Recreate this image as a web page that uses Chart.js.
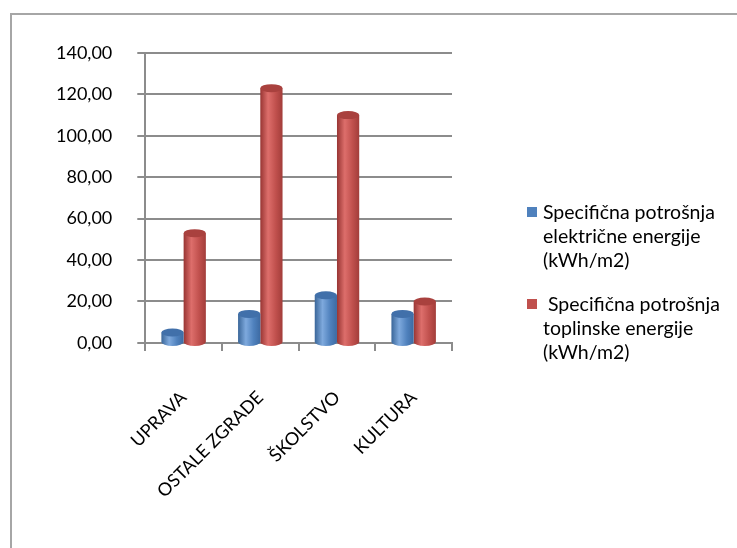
<!DOCTYPE html>
<html>
<head>
<meta charset="utf-8">
<script src="https://cdn.jsdelivr.net/npm/chart.js@4.4.0/dist/chart.umd.min.js"></script>
<style>
  html, body { margin: 0; padding: 0; background: #fff; overflow: hidden; }
  #wrap { position: relative; width: 737px; height: 548px; overflow: hidden; }
  #frame { position: absolute; left: 10px; top: 13px; width: 760px; height: 600px; border: 2px solid #a6a6a6; box-sizing: border-box; }
  canvas { position: absolute; left: 0; top: 0; }
</style>
</head>
<body>
<div id="wrap">
  <div id="frame"></div>
  <canvas id="chart" width="737" height="548"></canvas>
</div>
<script>
/* ===== Specifična potrošnja energije ===== */

const categories     = ['UPRAVA', 'OSTALE ZGRADE', 'ŠKOLSTVO', 'KULTURA'];
const electricValues = [5, 14, 23, 14];
const heatValues     = [53, 123, 110, 20];
const electricLabel  = ['Specifična potrošnja', 'električne energije', '(kWh/m2)'];
const heatLabel      = [' Specifična potrošnja', 'toplinske energije', '(kWh/m2)'];
const yMin  = 0;
const yMax  = 140;
const yStep = 20;

const FONT = 'Lato, "Open Sans", sans-serif';
const GRID = '#8c8c8c';

// colour sets: gradient stops left -> right, plus the darker top cap
const BLUE = { base: '#4f81bd', shade: ['#3a6699', '#7ea9dd', '#4f81bd', '#3d6aa2'], top: '#4170aa' };
const RED  = { base: '#c0504d', shade: ['#983533', '#dd6e6b', '#c0504d', '#a23d3a'], top: '#a9413e' };

function fmt(v) {
  return v.toFixed(2).replace('.', ',');
}

// cylinder look: gradient body, ellipse top and rounded base
const cylinderPlugin = {
  id: 'cylinders',
  beforeDatasetsDraw(chart) {
    const ctx = chart.ctx;
    chart.data.datasets.forEach((ds, i) => {
      chart.getDatasetMeta(i).data.forEach(bar => {
        const half = bar.width / 2;
        const g = ctx.createLinearGradient(bar.x - half, 0, bar.x + half, 0);
        g.addColorStop(0, ds.colors.shade[0]);
        g.addColorStop(0.35, ds.colors.shade[1]);
        g.addColorStop(0.7, ds.colors.shade[2]);
        g.addColorStop(1, ds.colors.shade[3]);
        bar.options.backgroundColor = g;
        bar._grad = g;
      });
    });
  },
  afterDatasetsDraw(chart) {
    const ctx = chart.ctx;
    chart.data.datasets.forEach((ds, i) => {
      chart.getDatasetMeta(i).data.forEach(bar => {
        const half = bar.width / 2;
        ctx.save();
        ctx.beginPath();
        ctx.ellipse(bar.x, bar.base, half, 4, 0, 0, Math.PI);
        ctx.fillStyle = bar._grad;
        ctx.fill();
        ctx.beginPath();
        ctx.ellipse(bar.x, bar.y, half, 4, 0, 0, Math.PI * 2);
        ctx.fillStyle = ds.colors.top;
        ctx.fill();
        ctx.restore();
      });
    });
  }
};

// multi-line legend on the right
const legendPlugin = {
  id: 'sideLegend',
  afterDraw(chart) {
    const ctx = chart.ctx;
    const x = 527, lineH = 24;
    const starts = [207, 299];
    ctx.save();
    ctx.font = '19.5px ' + FONT;
    ctx.textBaseline = 'middle';
    chart.data.datasets.forEach((ds, i) => {
      const y0 = starts[i];
      ctx.fillStyle = ds.colors.base;
      ctx.fillRect(x, y0, 10, 10);
      ctx.fillStyle = '#000';
      ds.label.forEach((line, j) => {
        ctx.fillText(line, x + 16, y0 + 6 + j * lineH);
      });
    });
    ctx.restore();
  }
};

const ctx = document.getElementById('chart').getContext('2d');

new Chart(ctx, {
  type: 'bar',
  data: {
    labels: categories,
    datasets: [
      {
        label: electricLabel,
        data: electricValues,
        colors: BLUE,
        backgroundColor: c => c.dataset.colors.base,
        borderWidth: 0,
        categoryPercentage: 0.58,
        barPercentage: 1
      },
      {
        label: heatLabel,
        data: heatValues,
        colors: RED,
        backgroundColor: c => c.dataset.colors.base,
        borderWidth: 0,
        categoryPercentage: 0.58,
        barPercentage: 1
      }
    ]
  },
  options: {
    responsive: false,
    animation: false,
    layout: { padding: { left: 31, top: 53, right: 285, bottom: 10 } },
    plugins: {
      legend: { display: false },
      tooltip: { enabled: false }
    },
    scales: {
      x: {
        grid: { drawOnChartArea: false, drawTicks: true, tickLength: 8, color: GRID, lineWidth: 2 },
        border: { display: true, color: GRID, width: 2 },
        ticks: {
          color: '#000',
          font: { family: FONT, size: 18 },
          minRotation: 45,
          maxRotation: 45,
          padding: 36
        }
      },
      y: {
        min: yMin,
        max: yMax,
        grid: { color: GRID, lineWidth: 2, tickLength: 8 },
        border: { display: true, color: GRID, width: 2 },
        ticks: {
          stepSize: yStep,
          color: '#000',
          font: { family: FONT, size: 18 },
          padding: 25,
          callback: v => fmt(v)
        }
      }
    }
  },
  plugins: [cylinderPlugin, legendPlugin]
});
</script>
</body>
</html>
